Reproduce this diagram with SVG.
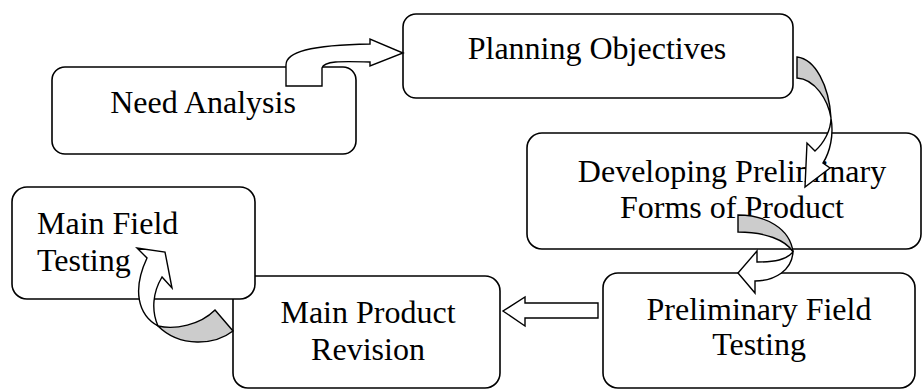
<svg xmlns="http://www.w3.org/2000/svg" width="922" height="389" viewBox="0 0 922 389">
<style>
.box{fill:#fff;stroke:#000;stroke-width:1.6}
.lbl{font-family:"Liberation Serif","Times New Roman",serif;font-size:32px;fill:#000}
.c{text-anchor:middle}
.w{fill:#fff;stroke:#000;stroke-width:1.4;stroke-linejoin:miter}
.g{fill:#cccccc;stroke:#000;stroke-width:1.4}
</style>
<rect width="922" height="389" fill="#fff"/>
<g id="need-analysis">
<rect class="box" x="52" y="67" width="304" height="87" rx="13"/>
<text class="lbl c" x="203" y="113">Need Analysis</text>
</g>
<g id="planning-objectives">
<rect class="box" x="403" y="14" width="390" height="84" rx="13"/>
<text class="lbl c" x="597" y="59">Planning Objectives</text>
</g>
<g id="developing">
<rect class="box" x="527" y="133" width="394" height="116" rx="15"/>
<text class="lbl c" x="732" y="182">Developing Preliminary</text>
<text class="lbl c" x="732" y="218">Forms of Product</text>
</g>
<g id="main-product-revision">
<rect class="box" x="233" y="276" width="267" height="112" rx="15"/>
<text class="lbl c" x="368" y="323">Main Product</text>
<text class="lbl c" x="368" y="360">Revision</text>
</g>
<g id="main-field-testing">
<rect class="box" x="12" y="187" width="243" height="112" rx="15"/>
<text class="lbl" x="37" y="234">Main Field</text>
<text class="lbl" x="37" y="271">Testing</text>
</g>
<g id="preliminary-field-testing">
<rect class="box" x="603" y="273" width="312" height="115" rx="15"/>
<text class="lbl c" x="759" y="320">Preliminary Field</text>
<text class="lbl c" x="759" y="355">Testing</text>
</g>
<g id="connectors">
<path class="w" d="M286,86 L286,65 C286,52 310,45 370,44 L370,39 L403,53 L370,66 L370,62 C340,61 324,61 322,68 L322,86 Z"/>
<path class="g" d="M797,57 C815,59 829,85 831,118 C828,100 815,79 797,78 Z"/>
<path class="w" d="M831,118 C831,130 824,143 815,151 L807,143 L805,187 L830,168 L823,163 C830,152 834,135 831,118 Z"/>
<path class="g" d="M738,215 C765,215 790,228 793,252 C786,240 765,232 738,232 Z"/>
<path class="w" d="M793,252 C786,260 775,262 757,262 L757,251 L738,273 L755,293 L755,281 C775,281 792,270 793,252 Z"/>
<path class="w" d="M598,303 L525,303 L525,297 L503,311 L525,326 L525,318 L598,318 Z"/>
<path class="g" d="M215,310 L233,331 C215,345 180,348 158,326 C175,330 200,325 215,310 Z"/>
<path class="w" d="M158,326 C138,315 132,290 147,258 L137,248 L165,252 L172,288 L162,277 C153,292 151,310 158,326 Z"/>
</g>
</svg>
